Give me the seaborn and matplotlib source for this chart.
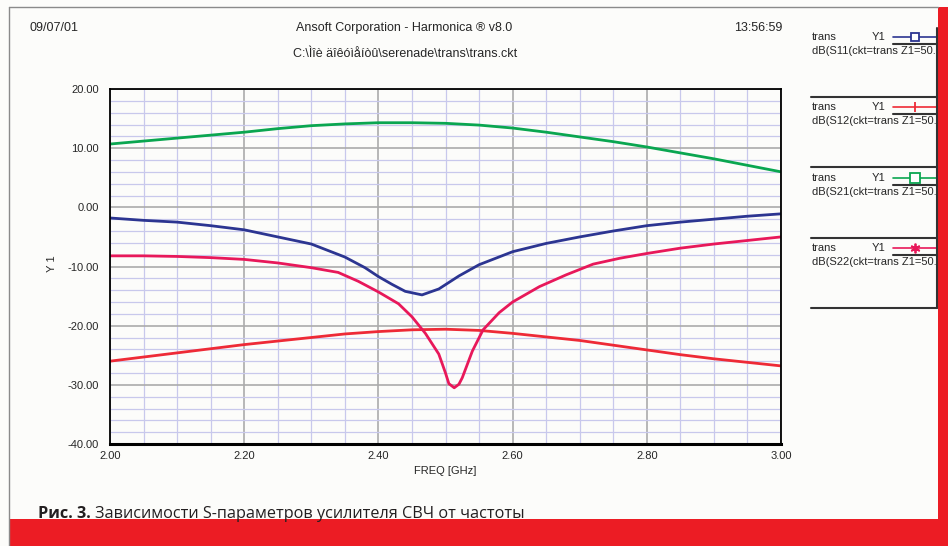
import numpy as np
import pandas as pd
import matplotlib
matplotlib.use("Agg")
import matplotlib.pyplot as plt
import seaborn as sns
from matplotlib.lines import Line2D
from matplotlib.patches import Rectangle
from matplotlib.ticker import MultipleLocator, FormatStrFormatter

# --- data (dB vs GHz) ---
freq = [2.00, 2.05, 2.10, 2.15, 2.20, 2.25, 2.30, 2.35, 2.40, 2.45, 2.50,
        2.55, 2.60, 2.65, 2.70, 2.75, 2.80, 2.85, 2.90, 2.95, 3.00]
s21 = [10.7, 11.2, 11.7, 12.2, 12.7, 13.3, 13.8, 14.1, 14.3, 14.3, 14.2,
       13.9, 13.4, 12.7, 11.9, 11.1, 10.2, 9.2, 8.2, 7.1, 6.0]
s12 = [-26.0, -25.3, -24.6, -23.9, -23.2, -22.6, -22.0, -21.4, -21.0, -20.7, -20.6,
       -20.8, -21.3, -21.9, -22.5, -23.3, -24.1, -24.9, -25.6, -26.2, -26.8]

freq_s11 = [2.00, 2.05, 2.10, 2.15, 2.20, 2.25, 2.30, 2.35, 2.38, 2.40, 2.42,
            2.44, 2.465, 2.49, 2.52, 2.55, 2.60, 2.65, 2.70, 2.75, 2.80,
            2.85, 2.90, 2.95, 3.00]
s11 = [-1.8, -2.2, -2.5, -3.1, -3.8, -5.0, -6.2, -8.4, -10.2, -11.7, -13.0,
       -14.2, -14.8, -13.8, -11.6, -9.7, -7.5, -6.1, -5.0, -4.0, -3.1,
       -2.5, -2.0, -1.5, -1.1]

freq_s22 = [2.00, 2.05, 2.10, 2.15, 2.20, 2.25, 2.30, 2.34, 2.37, 2.40, 2.43,
            2.45, 2.47, 2.49, 2.50, 2.505, 2.513, 2.52, 2.525, 2.54, 2.556,
            2.58, 2.60, 2.64, 2.68, 2.72, 2.76, 2.80, 2.85, 2.90, 2.95, 3.00]
s22 = [-8.2, -8.2, -8.3, -8.5, -8.8, -9.4, -10.2, -11.0, -12.5, -14.3, -16.3,
       -18.5, -21.3, -24.8, -28.0, -29.8, -30.5, -29.9, -28.8, -24.3, -20.7,
       -17.8, -16.0, -13.4, -11.4, -9.6, -8.6, -7.8, -6.9, -6.2, -5.6, -5.0]

params = ["S11", "S12", "S21", "S22"]
colors = {"S11": "#2c3591", "S12": "#ee2a36", "S21": "#0aa650", "S22": "#e8185a"}
markers = {"S11": "s", "S12": "|", "S21": "s", "S22": (6, 2, 0)}

df = pd.concat([
    pd.DataFrame({"freq": freq_s11, "db": s11, "param": "S11"}),
    pd.DataFrame({"freq": freq, "db": s12, "param": "S12"}),
    pd.DataFrame({"freq": freq, "db": s21, "param": "S21"}),
    pd.DataFrame({"freq": freq_s22, "db": s22, "param": "S22"}),
], ignore_index=True)

sns.set_style("white")
plt.rcParams["font.family"] = ["Liberation Sans", "DejaVu Sans"]
plt.rcParams["axes.unicode_minus"] = False

W, H = 948, 546


def fx(x):
    return x / W


def fy(y):
    return 1 - y / H


fig = plt.figure(figsize=(W / 100, H / 100), dpi=100, facecolor="#fcfcfa")
ax = fig.add_axes([fx(110), fy(444), 671 / W, 355 / H])
ax.set_facecolor("#fcfcfa")

sns.lineplot(data=df, x="freq", y="db", hue="param", palette=colors,
             estimator=None, linewidth=2, legend=False, ax=ax)

ax.set_xlim(2.0, 3.0)
ax.set_ylim(-40, 20)
ax.xaxis.set_major_locator(MultipleLocator(0.2))
ax.xaxis.set_minor_locator(MultipleLocator(0.05))
ax.yaxis.set_major_locator(MultipleLocator(10))
ax.yaxis.set_minor_locator(MultipleLocator(2))
ax.xaxis.set_major_formatter(FormatStrFormatter("%.2f"))
ax.yaxis.set_major_formatter(FormatStrFormatter("%.2f"))
ax.set_axisbelow(True)
ax.grid(which="minor", color="#c8c8ec", linewidth=0.9)
ax.grid(which="major", color="#ababab", linewidth=1.2)
ax.tick_params(which="major", direction="out", length=7, width=1, color="black",
               labelsize=8, pad=1)
ax.tick_params(which="minor", direction="out", length=3.5, width=1, color="black")
ax.tick_params(axis="x", which="major", length=4)
for side in ["top", "right", "left"]:
    ax.spines[side].set_color("black")
    ax.spines[side].set_linewidth(1.3)
ax.spines["bottom"].set_color("black")
ax.spines["bottom"].set_linewidth(2.2)
ax.set_xlabel("FREQ [GHz]", fontsize=8, labelpad=4)
ax.set_ylabel("")
fig.text(fx(52), fy(264), "Y 1", rotation=90, fontsize=8, ha="center", va="center")

# header
fig.text(fx(29), fy(28), "09/07/01", fontsize=9, va="center")
fig.text(fx(404), fy(28), "Ansoft Corporation - Harmonica \u00ae v8.0", fontsize=9,
         ha="center", va="center")
fig.text(fx(782), fy(28), "13:56:59", fontsize=9, ha="right", va="center")
fig.text(fx(405), fy(54), "C:\\\u00cc\u00ee\u00e8 \u00e4\u00ee\u00ea\u00f3\u00ec\u00e5\u00ed\u00f2\u00fb\\serenade\\trans\\trans.ckt",
         fontsize=9, ha="center", va="center")

# legend panel on the right
for i, name in enumerate(params):
    y0 = 37 + i * 70.3
    fig.text(fx(812), fy(y0), "trans", fontsize=8, va="center")
    fig.text(fx(872), fy(y0), "Y1", fontsize=8, va="center")
    fig.add_artist(Line2D([fx(893), fx(937)], [fy(y0), fy(y0)], color=colors[name], lw=1.2))
    fig.add_artist(Line2D([fx(915)], [fy(y0)], color=colors[name], marker=markers[name],
                          markersize=7 if name != "S11" else 6, markerfacecolor="white",
                          markeredgewidth=1.3, linestyle="none"))
    fig.add_artist(Line2D([fx(893), fx(937)], [fy(y0 + 7), fy(y0 + 7)], color="#333333", lw=1.5))
    fig.text(fx(812), fy(y0 + 14), "dB(%s(ckt=trans Z1=50." % name, fontsize=8, va="center")
    fig.add_artist(Line2D([fx(811), fx(937)], [fy(y0 + 60), fy(y0 + 60)], color="#333333", lw=1.5))
fig.add_artist(Line2D([fx(937), fx(937)], [fy(28), fy(308)], color="#333333", lw=1.5))

# page frame and red bands
fig.add_artist(Line2D([fx(9), fx(9)], [fy(7), fy(546)], color="#8a8a8a", lw=1))
fig.add_artist(Line2D([fx(9), fx(938)], [fy(7), fy(7)], color="#8a8a8a", lw=1))
fig.add_artist(Rectangle((fx(938), 0), 1 - fx(938), fy(7), transform=fig.transFigure,
                         color="#ec1c24", lw=0))
fig.add_artist(Rectangle((fx(10), 0), 1 - fx(10), fy(519), transform=fig.transFigure,
                         color="#ec1c24", lw=0))

# caption
cap_font = ["Open Sans", "DejaVu Sans"]
cap_bold = fig.text(fx(38), fy(518), "Рис. 3.", fontsize=11.7, fontweight="bold",
                    family=cap_font, va="baseline", color="#231f20")
fig.canvas.draw()
bb = cap_bold.get_window_extent()
fig.text(bb.x1 / W + 4 / W, fy(518), "Зависимости S-параметров усилителя СВЧ от частоты",
         fontsize=11.7, family=cap_font, va="baseline", color="#231f20")

fig.savefig("out.png", dpi=100, facecolor=fig.get_facecolor())
